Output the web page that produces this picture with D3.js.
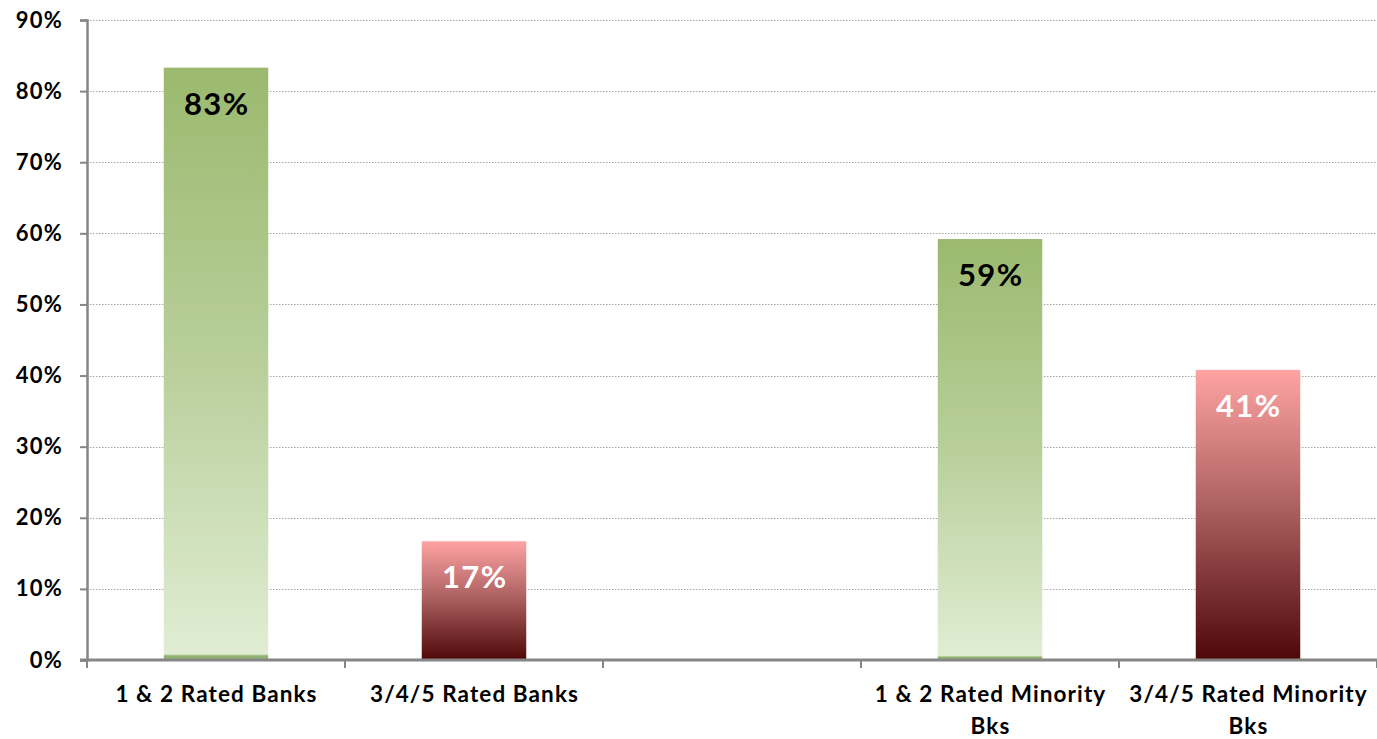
<!DOCTYPE html>
<html>
<head>
<meta charset="utf-8">
<script src="https://cdn.jsdelivr.net/npm/d3@7"></script>
<style>
  html, body { margin: 0; padding: 0; background: #ffffff; }
  svg { display: block; font-family: Lato, "Open Sans", sans-serif; }
</style>
</head>
<body>
<svg id="chart" width="1377" height="739"></svg>
<script>
// Share of banks by rating group (one empty slot separates the two groups)
const categories = ["1 & 2 Rated Banks", "3/4/5 Rated Banks", "", "1 & 2 Rated Minority Bks", "3/4/5 Rated Minority Bks"];
const values     = [0.833, 0.167, null, 0.592, 0.408];
const barKinds   = ["good", "poor", null, "good", "poor"];
const yTicks     = [0, 0.1, 0.2, 0.3, 0.4, 0.5, 0.6, 0.7, 0.8, 0.9];

const W = 1377, H = 739;
const margin = { top: 20, right: 0, bottom: 79, left: 87 };

const svg = d3.select("#chart");
const defs = svg.append("defs");

// Vertical gradients: green darkens toward the top, red darkens toward the bottom
const gGood = defs.append("linearGradient").attr("id", "grad-good")
  .attr("x1", 0).attr("y1", 0).attr("x2", 0).attr("y2", 1);
gGood.append("stop").attr("offset", "0%").attr("stop-color", "#9bb96e");
gGood.append("stop").attr("offset", "50%").attr("stop-color", "#b8cf9b");
gGood.append("stop").attr("offset", "99%").attr("stop-color", "#e0edd3");
gGood.append("stop").attr("offset", "99.3%").attr("stop-color", "#93b372");
gGood.append("stop").attr("offset", "100%").attr("stop-color", "#93b372");

const gPoor = defs.append("linearGradient").attr("id", "grad-poor")
  .attr("x1", 0).attr("y1", 0).attr("x2", 0).attr("y2", 1);
gPoor.append("stop").attr("offset", "0%").attr("stop-color", "#ffa3a3");
gPoor.append("stop").attr("offset", "45%").attr("stop-color", "#b06464");
gPoor.append("stop").attr("offset", "100%").attr("stop-color", "#4e0707");

const x = d3.scaleBand()
  .domain(d3.range(categories.length))
  .range([margin.left, W - margin.right])
  .padding(0);

const y = d3.scaleLinear()
  .domain([0, 0.9])
  .range([H - margin.bottom, margin.top]);

// Dotted horizontal gridlines
svg.append("g")
  .selectAll("line")
  .data(yTicks.filter(t => t > 0))
  .join("line")
  .attr("x1", margin.left)
  .attr("x2", W - margin.right)
  .attr("y1", d => Math.round(y(d)) + 0.5)
  .attr("y2", d => Math.round(y(d)) + 0.5)
  .attr("stroke", "#a6a6a6")
  .attr("stroke-width", 1)
  .attr("stroke-dasharray", "1.5,1.5");

// Bars
const barFrac = 0.405;
const bars = categories.map((c, i) => ({ i, c, v: values[i], kind: barKinds[i] }))
  .filter(d => d.v != null);

svg.append("g")
  .selectAll("rect")
  .data(bars)
  .join("rect")
  .attr("x", d => x(d.i) + x.bandwidth() * (1 - barFrac) / 2)
  .attr("width", x.bandwidth() * barFrac)
  .attr("y", d => y(d.v))
  .attr("height", d => y(0) - y(d.v))
  .attr("fill", d => d.kind === "good" ? "url(#grad-good)" : "url(#grad-poor)");

// Value labels inside the bars
svg.append("g")
  .selectAll("text")
  .data(bars)
  .join("text")
  .attr("x", d => x(d.i) + x.bandwidth() / 2)
  .attr("dx", 0.7)
  .attr("y", d => y(d.v) + 47)
  .attr("text-anchor", "middle")
  .attr("font-size", 31)
  .attr("font-weight", 700)
  .attr("letter-spacing", 1.4)
  .attr("fill", d => d.kind === "good" ? "#000000" : "#ffffff")
  .text(d => d3.format(".0%")(d.v));

// Y axis
const yAxis = svg.append("g")
  .attr("transform", `translate(${margin.left},0)`)
  .call(d3.axisLeft(y).tickValues(yTicks).tickFormat(d3.format(".0%")).tickSize(7).tickPadding(17));
yAxis.select(".domain").attr("stroke", "#868686").attr("stroke-width", 2.5);
yAxis.selectAll(".tick line").attr("stroke", "#868686").attr("stroke-width", 2);
yAxis.selectAll(".tick text")
  .attr("font-size", 22)
  .attr("font-weight", 700)
  .attr("letter-spacing", 1.2)
  .attr("fill", "#000")
  .attr("font-family", "Lato, 'Open Sans', sans-serif");

// X axis baseline and category separators
const xg = svg.append("g");
xg.append("line")
  .attr("x1", margin.left - 7).attr("x2", W - margin.right)
  .attr("y1", y(0)).attr("y2", y(0))
  .attr("stroke", "#868686").attr("stroke-width", 3);
const bounds = d3.range(categories.length + 1).map(i =>
  i < categories.length ? x(i) : x(categories.length - 1) + x.bandwidth());
xg.selectAll("line.sep")
  .data(bounds)
  .join("line")
  .attr("class", "sep")
  .attr("x1", d => d).attr("x2", d => d)
  .attr("y1", y(0)).attr("y2", y(0) + 8)
  .attr("stroke", "#868686").attr("stroke-width", 2);

// Category labels, wrapped to the band width
const labels = xg.selectAll("text.cat")
  .data(categories.map((c, i) => ({ c, i })).filter(d => d.c))
  .join("text")
  .attr("class", "cat")
  .attr("x", d => x(d.i) + x.bandwidth() / 2)
  .attr("y", y(0) + 42)
  .attr("text-anchor", "middle")
  .attr("font-size", 22.5)
  .attr("font-weight", 700)
  .attr("letter-spacing", 1.1)
  .attr("fill", "#000");

labels.each(function(d) {
  const el = d3.select(this);
  const words = d.c.split(" ");
  const maxW = x.bandwidth() - 10;
  const cx = x(d.i) + x.bandwidth() / 2 + 0.5;
  let line = [];
  let tspan = el.append("tspan").attr("x", cx).attr("dy", 0);
  words.forEach(w => {
    line.push(w);
    tspan.text(line.join(" "));
    if (tspan.node().getComputedTextLength() > maxW && line.length > 1) {
      line.pop();
      tspan.text(line.join(" "));
      line = [w];
      tspan = el.append("tspan").attr("x", cx).attr("dy", 32).text(w);
    }
  });
});
</script>
</body>
</html>
